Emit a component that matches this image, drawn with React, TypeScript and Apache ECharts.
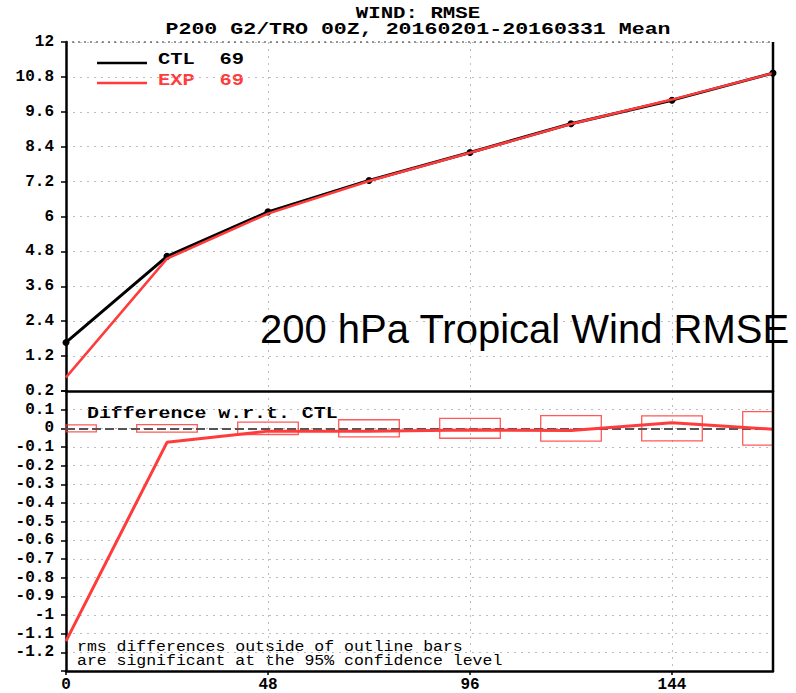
import React, { useEffect, useRef } from "react";
import * as echarts from "echarts";

const forecastHours = [0, 24, 48, 72, 96, 120, 144, 168];
const ctlRmse = [1.67, 4.63, 6.16, 7.24, 8.2, 9.19, 10.0, 10.93];
const expRmse = [0.47, 4.55, 6.1, 7.22, 8.19, 9.18, 10.02, 10.93];
const diffExpCtl = [-1.14, -0.075, -0.015, -0.015, -0.009, -0.012, 0.03, -0.005];
const sigHalfRange = [0.019, 0.02, 0.033, 0.046, 0.053, 0.068, 0.067, 0.09];

const titleLine1 = "WIND: RMSE";
const titleLine2 = "P200 G2/TRO 00Z, 20160201-20160331 Mean";
const legendCtl = "CTL  69";
const legendExp = "EXP  69";
const diffLabel = "Difference w.r.t. CTL";
const noteLine1 = "rms differences outside of outline bars";
const noteLine2 = "are significant at the 95% confidence level";
const bigLabel = "200 hPa Tropical Wind RMSE";

// layout / style constants
const L = 66;
const R = 773;
const TOP = 42;
const MID = 391;
const BOT = 671;
const W = 796;
const H = 693;
const BOX_HALF_HOURS = 7.2;
const RED = "#ff3b3b";
const MONO = "'Liberation Mono', 'DejaVu Sans Mono', monospace";

export default function App() {
  const ref = useRef<HTMLDivElement>(null);
  useEffect(() => {
    if (!ref.current) return;
    const chart = echarts.init(ref.current, undefined, { renderer: "svg" });
    const axisLabelStyle = {
      color: "#000",
      fontFamily: MONO,
      fontWeight: "bold" as const,
      fontSize: 16,
    };
    const split = { show: true, lineStyle: { color: "#bdbdbd", type: [2, 5] as any, width: 1 } };
    const ctlData = forecastHours.map((h, i) => [h, ctlRmse[i]]);
    const expData = forecastHours.map((h, i) => [h, expRmse[i]]);
    const diffData = forecastHours.map((h, i) => [h, diffExpCtl[i]]);
    const boxData = forecastHours.map((h, i) => [h, sigHalfRange[i]]);

    const option: any = {
      animation: false,
      backgroundColor: "#fff",
      grid: [
        { left: L, right: W - R, top: TOP, height: MID - TOP },
        { left: L, right: W - R, top: MID, height: BOT - MID },
      ],
      xAxis: [
        {
          gridIndex: 0,
          type: "value",
          min: 0,
          max: 168,
          interval: 48,
          axisLine: { show: true, onZero: false, lineStyle: { color: "#000", width: 2.5 } },
          axisTick: { show: false },
          axisLabel: { show: false },
          splitLine: split,
        },
        {
          gridIndex: 1,
          type: "value",
          min: 0,
          max: 168,
          interval: 48,
          axisLine: { show: true, onZero: false, lineStyle: { color: "#000", width: 2.5 } },
          axisTick: { show: true, length: 4, lineStyle: { color: "#000", width: 1.5 } },
          axisLabel: {
            ...axisLabelStyle,
            margin: 6,
            showMaxLabel: false,
            formatter: (v: number) => (v % 48 === 0 ? String(v) : ""),
          },
          splitLine: split,
        },
      ],
      yAxis: [
        {
          gridIndex: 0,
          type: "value",
          min: 0,
          max: 12,
          interval: 1.2,
          axisLine: { show: true, onZero: false, lineStyle: { color: "#000", width: 2.5 } },
          axisTick: { show: true, length: 5, lineStyle: { color: "#000", width: 1.5 } },
          axisLabel: {
            ...axisLabelStyle,
            margin: 12,
            showMinLabel: true,
            showMaxLabel: true,
            formatter: (v: number) => {
              const r = Math.round(v * 10) / 10;
              return r === 0 ? "" : String(r);
            },
          },
          splitLine: split,
        },
        {
          gridIndex: 1,
          type: "value",
          min: -1.3,
          max: 0.2,
          interval: 0.1,
          axisLine: { show: true, onZero: false, lineStyle: { color: "#000", width: 2.5 } },
          axisTick: { show: true, length: 5, lineStyle: { color: "#000", width: 1.5 } },
          axisLabel: {
            ...axisLabelStyle,
            margin: 12,
            showMinLabel: true,
            showMaxLabel: true,
            formatter: (v: number) => {
              const r = Math.round(v * 10) / 10;
              if (r <= -1.3) return "";
              return String(r === 0 ? 0 : r);
            },
          },
          splitLine: split,
        },
      ],
      series: [
        {
          type: "line",
          name: "CTL",
          xAxisIndex: 0,
          yAxisIndex: 0,
          data: ctlData,
          symbol: "circle",
          symbolSize: 7,
          showSymbol: true,
          itemStyle: { color: "#000" },
          lineStyle: { color: "#000", width: 3 },
          z: 3,
        },
        {
          type: "line",
          name: "EXP",
          xAxisIndex: 0,
          yAxisIndex: 0,
          data: expData,
          symbol: "none",
          lineStyle: { color: RED, width: 2.5 },
          z: 4,
        },
        {
          type: "custom",
          name: "significance",
          xAxisIndex: 1,
          yAxisIndex: 1,
          data: boxData,
          encode: { x: 0, y: 1 },
          z: 3,
          renderItem: (params: any, api: any) => {
            const x = api.value(0);
            const h = api.value(1);
            const p1 = api.coord([x - BOX_HALF_HOURS, h]);
            const p2 = api.coord([x + BOX_HALF_HOURS, -h]);
            const cs = params.coordSys;
            const shape = echarts.graphic.clipRectByRect(
              { x: p1[0], y: p1[1], width: p2[0] - p1[0], height: p2[1] - p1[1] },
              { x: cs.x, y: cs.y, width: cs.width, height: cs.height }
            );
            if (!shape) return null;
            return {
              type: "rect",
              shape,
              style: { fill: "none", stroke: "rgba(255,60,60,0.85)", lineWidth: 1.3 },
            };
          },
        },
        {
          type: "line",
          name: "EXP-CTL",
          xAxisIndex: 1,
          yAxisIndex: 1,
          data: diffData,
          symbol: "none",
          lineStyle: { color: RED, width: 3 },
          z: 5,
          markLine: {
            silent: true,
            symbol: "none",
            label: { show: false },
            lineStyle: { color: "#555", type: [9, 4], width: 2 },
            data: [{ yAxis: 0 }],
          },
        },
      ],
      graphic: [
        {
          type: "line",
          shape: { x1: R, y1: TOP, x2: R, y2: BOT },
          style: { stroke: "#000", lineWidth: 2.5 },
          z: 10,
        },
        {
          type: "line",
          shape: { x1: L, y1: TOP, x2: R, y2: TOP },
          style: { stroke: "#333", lineWidth: 1.2, lineDash: [2, 4] },
          z: 10,
        },
        {
          type: "text",
          x: 418,
          y: 14,
          scaleX: 1.22,
          style: { text: titleLine1, align: "center", verticalAlign: "middle", font: `bold 17px ${MONO}`, fill: "#000" },
        },
        {
          type: "text",
          x: 418,
          y: 30,
          scaleX: 1.27,
          style: { text: titleLine2, align: "center", verticalAlign: "middle", font: `bold 17px ${MONO}`, fill: "#000" },
        },
        {
          type: "line",
          shape: { x1: 97, y1: 63, x2: 147, y2: 63 },
          style: { stroke: "#000", lineWidth: 2.5 },
        },
        {
          type: "line",
          shape: { x1: 97, y1: 83, x2: 147, y2: 83 },
          style: { stroke: RED, lineWidth: 2.5 },
        },
        {
          type: "text",
          x: 158,
          y: 60,
          scaleX: 1.28,
          style: { text: legendCtl, align: "left", verticalAlign: "middle", font: `bold 16px ${MONO}`, fill: "#000" },
        },
        {
          type: "text",
          x: 158,
          y: 81,
          scaleX: 1.28,
          style: { text: legendExp, align: "left", verticalAlign: "middle", font: `bold 16px ${MONO}`, fill: RED },
        },
        {
          type: "text",
          x: 260,
          y: 329,
          z: 20,
          style: { text: bigLabel, align: "left", verticalAlign: "middle", font: `40px 'Liberation Sans', Arial, sans-serif`, fill: "#000" },
        },
        {
          type: "text",
          x: 87,
          y: 414,
          scaleX: 1.17,
          style: { text: diffLabel, align: "left", verticalAlign: "middle", font: `bold 17px ${MONO}`, fill: "#000" },
        },
        {
          type: "text",
          x: 77,
          y: 647,
          scaleX: 1.1,
          style: { text: noteLine1, align: "left", verticalAlign: "middle", font: `15px ${MONO}`, fill: "#000" },
        },
        {
          type: "text",
          x: 77,
          y: 661,
          scaleX: 1.1,
          style: { text: noteLine2, align: "left", verticalAlign: "middle", font: `15px ${MONO}`, fill: "#000" },
        },
      ],
    };
    chart.setOption(option);
    return () => chart.dispose();
  }, []);
  return (
    <div
      ref={ref}
      style={{ position: "fixed", left: 0, top: 0, width: W, height: H, background: "#fff" }}
    />
  );
}
